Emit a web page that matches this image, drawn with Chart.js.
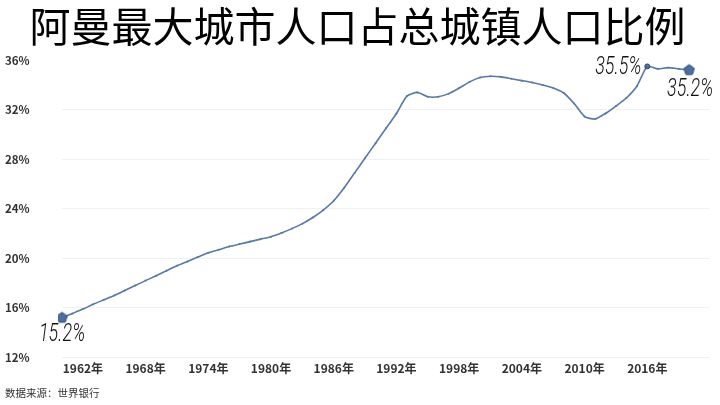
<!DOCTYPE html>
<html lang="zh">
<head>
    <meta charset="UTF-8">
    <title>阿曼最大城市人口占总城镇人口比例</title>
    <script src="https://cdn.jsdelivr.net/npm/chart.js"></script>
    <style>
        html, body { margin: 0; padding: 0; background: #fff; }
        #wrap { width: 720px; height: 405px; }
    </style>
</head>
<body>
    <div id="wrap"><canvas id="shareChart" width="720" height="405"></canvas></div>

    <script>
        // Data (World Bank): largest city population, % of urban population
        const years = [];
        for (let y = 1960; y <= 2022; y++) years.push(y);

        const shareValues = [
            15.2, 15.55, 15.9, 16.3, 16.65, 17.0, 17.4, 17.8, 18.2, 18.6,
            19.0, 19.4, 19.75, 20.1, 20.45, 20.7, 20.95, 21.15, 21.35, 21.55,
            21.75, 22.05, 22.4, 22.8, 23.3, 23.9, 24.65, 25.7, 26.9, 28.1,
            29.3, 30.5, 31.7, 33.1, 33.4, 33.05, 33.05, 33.3, 33.75, 34.25,
            34.6, 34.7, 34.65, 34.5, 34.35, 34.2, 34.0, 33.75, 33.35, 32.5,
            31.45, 31.25, 31.7, 32.3, 32.95, 33.9, 35.5, 35.3, 35.4, 35.3,
            35.2
        ];

        const tickYears = [1962, 1968, 1974, 1980, 1986, 1992, 1998, 2004, 2010, 2016];
        const yTicks = [12, 16, 20, 24, 28, 32, 36];

        const firstIdx = 0;
        const lastIdx = shareValues.length - 1;
        const maxIdx = shareValues.indexOf(Math.max(...shareValues));

        // pentagon marker
        function pentagon(r, fill, stroke) {
            const c = document.createElement('canvas');
            const s = Math.ceil(r * 2 + 4);
            c.width = s; c.height = s;
            const g = c.getContext('2d');
            g.beginPath();
            for (let i = 0; i < 5; i++) {
                const a = -Math.PI / 2 + i * 2 * Math.PI / 5;
                const px = s / 2 + r * Math.cos(a);
                const py = s / 2 + r * Math.sin(a);
                if (i === 0) g.moveTo(px, py); else g.lineTo(px, py);
            }
            g.closePath();
            g.fillStyle = fill;
            g.fill();
            g.lineWidth = 1;
            g.strokeStyle = stroke;
            g.stroke();
            return c;
        }
        const penta = pentagon(5.5, '#4c6f9e', '#2f4a70');

        // value labels drawn next to marked points
        const pointLabels = {
            id: 'pointLabels',
            afterDatasetsDraw(chart) {
                const ctx = chart.ctx;
                const pts = chart.getDatasetMeta(0).data;
                const items = [
                    { i: firstIdx, dx: 0, dy: 17, align: 'center' },
                    { i: maxIdx, dx: -6, dy: 1, align: 'right' },
                    { i: lastIdx, dx: 1, dy: 20, align: 'center' }
                ];
                ctx.save();
                ctx.fillStyle = '#111';
                ctx.font = 'italic 300 25px Roboto, "DejaVu Sans", sans-serif';
                ctx.textBaseline = 'middle';
                const sx = 0.72;
                items.forEach(it => {
                    const p = pts[it.i];
                    const txt = shareValues[it.i].toFixed(1) + '%';
                    ctx.save();
                    ctx.translate(p.x + it.dx, p.y + it.dy);
                    ctx.scale(sx, 1);
                    ctx.textAlign = it.align;
                    ctx.fillText(txt, 0, 0);
                    ctx.restore();
                });
                ctx.restore();
            }
        };

        new Chart(document.getElementById('shareChart'), {
            type: 'line',
            data: {
                labels: years,
                datasets: [{
                    data: shareValues,
                    borderColor: '#5779a6',
                    borderWidth: 1.6,
                    tension: 0.2,
                    fill: false,
                    pointStyle: ctx => (ctx.dataIndex === firstIdx || ctx.dataIndex === lastIdx) ? penta : 'circle',
                    pointRadius: ctx => ctx.dataIndex === maxIdx ? 2.5 : 1,
                    pointBackgroundColor: ctx => ctx.dataIndex === maxIdx ? '#4c6f9e' : '#5779a6',
                    pointBorderColor: ctx => ctx.dataIndex === maxIdx ? '#2f4a70' : '#5779a6',
                    pointBorderWidth: ctx => ctx.dataIndex === maxIdx ? 1 : 0
                }]
            },
            options: {
                responsive: false,
                animation: false,
                layout: { padding: { left: 5, right: 10, top: 0, bottom: 0 } },
                plugins: {
                    legend: { display: false },
                    tooltip: { enabled: false },
                    title: {
                        display: true,
                        text: '阿曼最大城市人口占总城镇人口比例',
                        color: '#000',
                        font: { family: '"Noto Sans CJK SC", sans-serif', size: 41, weight: 'normal' },
                        padding: { top: 2, bottom: 9 }
                    },
                    subtitle: {
                        display: true,
                        position: 'bottom',
                        align: 'start',
                        text: '数据来源：世界银行',
                        color: '#333',
                        font: { family: '"Noto Sans CJK SC", sans-serif', size: 10.5, weight: 'normal' },
                        padding: { top: 7, bottom: 6 }
                    }
                },
                scales: {
                    x: {
                        offset: false,
                        grid: { display: false, drawTicks: false },
                        border: { display: false },
                        afterFit: axis => { axis.height = 22; },
                        afterBuildTicks: axis => {
                            axis.ticks = tickYears.map(y => ({ value: years.indexOf(y) }));
                        },
                        ticks: {
                            autoSkip: false,
                            maxRotation: 0,
                            padding: 4,
                            color: '#333',
                            font: { family: '"Noto Sans CJK SC", sans-serif', size: 12, weight: 'bold' },
                            callback: function (v) { return years[v] + '年'; }
                        }
                    },
                    y: {
                        min: 12,
                        max: 36,
                        afterFit: axis => { axis.width = 57; },
                        afterBuildTicks: axis => {
                            axis.ticks = yTicks.map(v => ({ value: v }));
                        },
                        grid: {
                            color: ctx => ctx.tick && ctx.tick.value === 36 ? 'rgba(0,0,0,0)' : '#f1f1f1',
                            drawTicks: false
                        },
                        border: { display: false },
                        ticks: {
                            crossAlign: 'far',
                            padding: 8,
                            color: '#333',
                            font: { family: '"Noto Sans CJK SC", sans-serif', size: 11.5, weight: 'bold' },
                            callback: v => v + '%'
                        }
                    }
                }
            },
            plugins: [pointLabels]
        });
    </script>
</body>
</html>
